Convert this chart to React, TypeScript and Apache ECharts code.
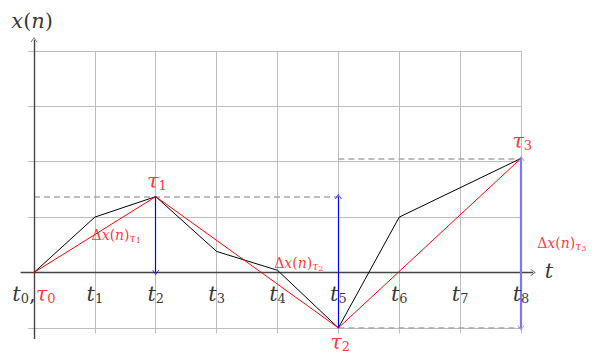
import React, { useEffect, useRef } from 'react';
import * as echarts from 'echarts';

// ---- data ----
const tickIndex = [0, 1, 2, 3, 4, 5, 6, 7, 8];
const gridYLevels = [-1, 0, 1, 2, 3, 4];
const blackX = [0, 1, 2, 3, 4, 5, 6, 8];
const blackY = [0, 1, 1.37, 0.38, 0.04, -1, 1, 2.06];
const redX = [0, 2, 5, 8];
const redY = [0, 1.37, -1, 2.06];
const tauSub = ['1', '2', '3'];
const tauLabelPos = [[2.02, 1.66], [5.03, -1.25], [8.02, 2.38]];
const deltaLabelPos = [[1.35, 0.67], [4.35, 0.17], [8.67, 0.53]];
const blueArrows = [
  { from: [2, 1.37], to: [2, 0], both: false, light: false },
  { from: [5, -1], to: [5, 1.37], both: false, light: false },
  { from: [8, 2.06], to: [8, -1], both: true, light: true },
];
const dashedLines = [
  [[0, 1.37], [5, 1.37]],
  [[5, -1], [8, -1]],
  [[5, 2.06], [8, 2.06]],
];

const SERIF = 'DejaVu Serif';
const ARROW = 'path://M5,0L10,10L9,10L5,2L1,10L0,10Z';

const rich = {
  t: { fontFamily: SERIF, fontStyle: 'italic', fontSize: 21, color: '#000', lineHeight: 24 },
  s: { fontFamily: SERIF, fontSize: 13, color: '#000', lineHeight: 13, padding: [10, 0, 0, 0] },
  c: { fontFamily: SERIF, fontSize: 21, color: '#000', lineHeight: 24 },
  rt: { fontFamily: SERIF, fontStyle: 'italic', fontSize: 21, color: '#ff0000', lineHeight: 24 },
  rs: { fontFamily: SERIF, fontSize: 13, color: '#ff0000', lineHeight: 13, padding: [10, 0, 0, 0] },
  m: { fontFamily: SERIF, fontSize: 21, color: '#000', lineHeight: 24 },
  dm: { fontFamily: SERIF, fontSize: 14, color: '#ff0000', lineHeight: 15 },
  di: { fontFamily: SERIF, fontStyle: 'italic', fontSize: 14, color: '#ff0000', lineHeight: 15 },
  dt: { fontFamily: SERIF, fontStyle: 'italic', fontSize: 11, color: '#ff0000', lineHeight: 11, padding: [6, 0, 0, 0] },
  ds: { fontFamily: SERIF, fontSize: 8, color: '#ff0000', lineHeight: 8, padding: [10, 0, 0, 0] },
};

export default function App() {
  const ref = useRef<HTMLDivElement>(null);
  useEffect(() => {
    if (!ref.current) return;
    const chart = echarts.init(ref.current, null, { renderer: 'svg' });

    const gridLines: any[] = [];
    tickIndex.forEach((i) => gridLines.push([{ coord: [i, -1.1] }, { coord: [i, 4] }]));
    gridYLevels.forEach((v) => gridLines.push([{ coord: [-0.1, v] }, { coord: [8, v] }]));

    const axisLines: any[] = [
      [{ coord: [-0.22, 0] }, { coord: [8.2, 0] }],
      [{ coord: [0, -1.2] }, { coord: [0, 4.2] }],
    ];

    const tickLabels = tickIndex.map((i) => ({
      value: [i, -0.38],
      label: {
        formatter: i === 0 ? '{t|t}{s|0}{c|,}{rt|τ}{rs|0}' : `{t|t}{s|${i}}`,
      },
    }));
    const tauLabels = tauLabelPos.map((p, k) => ({
      value: p,
      label: { formatter: `{rt|τ}{rs|${tauSub[k]}}` },
    }));
    const deltaLabels = deltaLabelPos.map((p, k) => ({
      value: p,
      label: { formatter: `{dm|Δ}{di|x}{dm|(}{di|n}{dm|)}{dt|τ}{ds|${tauSub[k]}}` },
    }));
    const axisNames = [
      { value: [-0.03, 4.54], label: { formatter: '{t|x}{m|(}{t|n}{m|)}' } },
      { value: [8.46, 0.02], label: { formatter: '{t|t}' } },
    ];

    chart.setOption({
      animation: false,
      grid: { left: 3.56, right: 18.125, top: 17.66, bottom: 4.4 },
      xAxis: { type: 'value', min: -0.5, max: 9, show: false },
      yAxis: { type: 'value', min: -1.5, max: 4.6, show: false },
      series: [
        {
          type: 'line',
          data: [],
          silent: true,
          markLine: {
            silent: true,
            z: 1,
            symbol: ['none', 'none'],
            label: { show: false },
            lineStyle: { color: '#bdbdbd', width: 1, type: 'solid' },
            data: gridLines,
          },
        },
        {
          type: 'line',
          data: [],
          silent: true,
          markLine: {
            silent: true,
            z: 2,
            symbol: ['none', 'none'],
            label: { show: false },
            lineStyle: { color: '#a8a8a8', width: 1.5, type: [6, 4] },
            data: dashedLines.map((d) => [{ coord: d[0] }, { coord: d[1] }]),
          },
        },
        {
          type: 'line',
          data: [],
          silent: true,
          markLine: {
            silent: true,
            z: 2,
            symbol: ['none', ARROW],
            symbolSize: [7, 5],
            label: { show: false },
            lineStyle: { color: '#444', width: 1.4, type: 'solid' },
            data: axisLines,
          },
        },
        {
          type: 'line',
          z: 3,
          data: blackX.map((x, i) => [x, blackY[i]]),
          showSymbol: false,
          symbol: 'none',
          lineStyle: { color: '#000', width: 1 },
          silent: true,
        },
        {
          type: 'line',
          z: 4,
          data: redX.map((x, i) => [x, redY[i]]),
          showSymbol: false,
          symbol: 'none',
          lineStyle: { color: '#ff0000', width: 1 },
          silent: true,
        },
        {
          type: 'line',
          data: [],
          silent: true,
          markLine: {
            silent: true,
            z: 6,
            symbol: ['none', ARROW],
            symbolSize: [7, 5],
            label: { show: false },
            lineStyle: { color: '#0000ff', width: 1.2, type: 'solid' },
            data: blueArrows.map((a) => [
              {
                coord: a.from,
                symbol: a.both ? ARROW : 'none',
                lineStyle: a.light ? { color: '#7878ff', width: 2.2 } : undefined,
              },
              { coord: a.to },
            ]),
          },
        },
        {
          type: 'scatter',
          z: 10,
          clip: false,
          symbolSize: 0,
          silent: true,
          label: { show: true, position: 'inside', rich },
          data: [...tickLabels, ...tauLabels, ...deltaLabels, ...axisNames],
        },
      ],
    });
    return () => chart.dispose();
  }, []);
  return <div ref={ref} style={{ width: 600, height: 360, margin: -8 }} />;
}
